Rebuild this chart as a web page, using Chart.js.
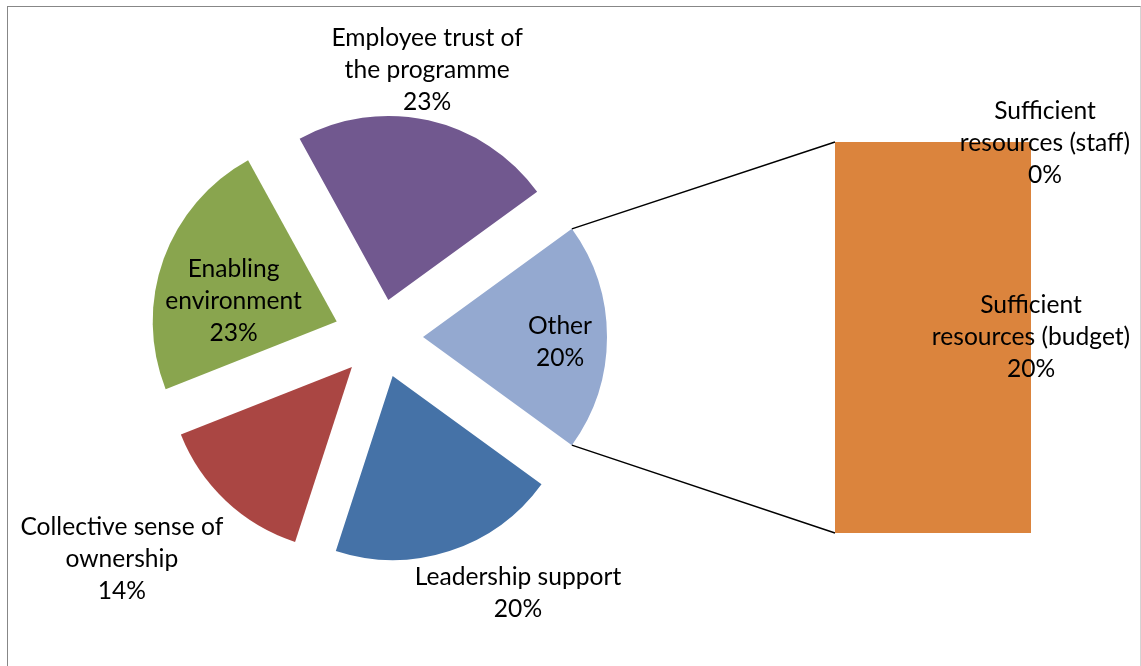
<!DOCTYPE html>
<html lang="en">
<head>
<meta charset="utf-8">
<title>Success factors</title>
<script src="https://cdn.jsdelivr.net/npm/chart.js@4.4.1/dist/chart.umd.min.js"></script>
<style>
    html, body { margin: 0; padding: 0; background: #fff; }
    #stage { position: relative; width: 1141px; height: 666px; overflow: hidden; }
    #frame { position: absolute; left: 7px; top: 6px; width: 1134px; height: 720px; box-sizing: border-box;
             border: 1px solid #878787; border-right-color: #d4d4d4; }
    #stage canvas { position: absolute; left: 0; top: 0; }
</style>
</head>
<body>
<div id="stage">
    <div id="frame"></div>
    <canvas id="pieChart" width="1141" height="666"></canvas>
    <canvas id="barChart" width="1141" height="666"></canvas>
</div>
<script>
// main factors (clockwise after "Other"), labels already wrapped into lines
const pieLabels = [['Leadership support'], ['Collective sense of', 'ownership'], ['Enabling', 'environment'], ['Employee trust of', 'the programme']];
const pieValues = [20, 14, 23, 23];
const pieColors = ['#4572A7', '#AA4643', '#89A54E', '#71588F'];

// "Other" is broken out into the stacked bar (bottom to top)
const otherLabel = ['Other'];
const otherColor = '#94A9D0';
const barLabels = [['Sufficient', 'resources (budget)'], ['Sufficient', 'resources (staff)']];
const barValues = [20, 0];
const barColors = ['#DB843D', '#3D96AE'];

const FONT = '24.6px Lato';
const LINE_H = 32;
// px each slice is pulled away from the centre (Other, then clockwise)
const explode = [43, 41, 41, 46, 38];

const otherValue = barValues.reduce((a, b) => a + b, 0);
const sliceValues = [otherValue, ...pieValues];
const sliceLabels = [otherLabel, ...pieLabels];
const total = sliceValues.reduce((a, b) => a + b, 0);
const pct = v => Math.round(v / total * 100) + '%';

// where each slice's label sits: distance from the slice tip in radii, turn in degrees off the slice middle
const labelPlacement = [
    {r: 0.745, turn: 2},
    {r: 1.362, turn: -12},
    {r: 1.63, turn: 6.9},
    {r: 0.571, turn: -8.9},
    {r: 1.267, turn: -3}
];

function sliceTip(arc, i) {
    const mid = (arc.startAngle + arc.endAngle) / 2;
    return {x: arc.x + Math.cos(mid) * explode[i], y: arc.y + Math.sin(mid) * explode[i], mid: mid};
}

function drawLines(ctx, lines, x, y) {
    const top = y - (lines.length - 1) * LINE_H / 2;
    lines.forEach((t, i) => ctx.fillText(t, x, top + i * LINE_H));
}

const explodePlugin = {
    id: 'explode',
    beforeDatasetDraw(chart, args) {
        const ctx = chart.ctx;
        args.meta.data.forEach((arc, i) => {
            const tip = sliceTip(arc, i);
            ctx.save();
            ctx.translate(tip.x - arc.x, tip.y - arc.y);
            arc.draw(ctx);
            ctx.restore();
        });
        return false;
    }
};

const pieLabelPlugin = {
    id: 'pieLabels',
    afterDatasetsDraw(chart) {
        const ctx = chart.ctx;
        ctx.save();
        ctx.font = FONT;
        ctx.fillStyle = '#000';
        ctx.textAlign = 'center';
        ctx.textBaseline = 'middle';
        chart.getDatasetMeta(0).data.forEach((arc, i) => {
            const tip = sliceTip(arc, i);
            const p = labelPlacement[i];
            const a = tip.mid + p.turn * Math.PI / 180;
            const d = p.r * arc.outerRadius;
            drawLines(ctx, [...sliceLabels[i], pct(sliceValues[i])], tip.x + Math.cos(a) * d, tip.y + Math.sin(a) * d);
        });
        ctx.restore();
    }
};

const pieChart = new Chart(document.getElementById('pieChart'), {
    type: 'pie',
    data: {
        labels: sliceLabels.map(l => l.join(' ')),
        datasets: [{
            data: sliceValues,
            backgroundColor: [otherColor, ...pieColors],
            borderWidth: 0
        }]
    },
    options: {
        responsive: false,
        animation: false,
        events: [],
        // "Other" centred on the right-hand side, pointing at the bar
        rotation: 90 - otherValue / total * 180,
        radius: 184,
        layout: {padding: {left: 0, right: 381, top: 8, bottom: 0}},
        plugins: {legend: {display: false}, tooltip: {enabled: false}}
    },
    plugins: [explodePlugin, pieLabelPlugin]
});

// lines joining the "Other" slice to the bar
const connectorPlugin = {
    id: 'connector',
    beforeDatasetsDraw(chart) {
        const arc = pieChart.getDatasetMeta(0).data[0];
        const tip = sliceTip(arc, 0);
        const R = arc.outerRadius;
        const bars = chart.data.datasets.map((ds, i) => chart.getDatasetMeta(i).data[0]);
        const left = bars[0].x - bars[0].width / 2;
        const top = Math.min(...bars.map(b => b.y));
        const bottom = Math.max(...bars.map(b => b.base));
        const ctx = chart.ctx;
        ctx.save();
        ctx.strokeStyle = '#000';
        ctx.lineWidth = 1.5;
        ctx.beginPath();
        ctx.moveTo(tip.x + Math.cos(arc.startAngle) * R, tip.y + Math.sin(arc.startAngle) * R);
        ctx.lineTo(left, top);
        ctx.moveTo(tip.x + Math.cos(arc.endAngle) * R, tip.y + Math.sin(arc.endAngle) * R);
        ctx.lineTo(left, bottom);
        ctx.stroke();
        ctx.restore();
    }
};

// bar labels hang off the bar's right edge
const barLabelShift = [{dx: 0, dy: 0}, {dx: 14, dy: 1}];

const barLabelPlugin = {
    id: 'barLabels',
    afterDatasetsDraw(chart) {
        const ctx = chart.ctx;
        ctx.save();
        ctx.font = FONT;
        ctx.fillStyle = '#000';
        ctx.textAlign = 'center';
        ctx.textBaseline = 'middle';
        chart.data.datasets.forEach((ds, i) => {
            const bar = chart.getDatasetMeta(i).data[0];
            const x = bar.x + bar.width / 2 + barLabelShift[i].dx;
            const y = (bar.y + bar.base) / 2 + barLabelShift[i].dy;
            drawLines(ctx, [...barLabels[i], pct(barValues[i])], x, y);
        });
        ctx.restore();
    }
};

const barChart = new Chart(document.getElementById('barChart'), {
    type: 'bar',
    data: {
        labels: [otherLabel.join(' ')],
        datasets: barLabels.map((lines, i) => ({
            label: lines.join(' '),
            data: [barValues[i]],
            backgroundColor: barColors[i],
            borderWidth: 0,
            barPercentage: 1,
            categoryPercentage: 1
        }))
    },
    options: {
        responsive: false,
        animation: false,
        events: [],
        layout: {padding: {left: 835, right: 110, top: 142, bottom: 133}},
        scales: {
            x: {display: false, stacked: true},
            y: {display: false, stacked: true, min: 0, max: otherValue}
        },
        plugins: {legend: {display: false}, tooltip: {enabled: false}}
    },
    plugins: [connectorPlugin, barLabelPlugin]
});
</script>
</body>
</html>
